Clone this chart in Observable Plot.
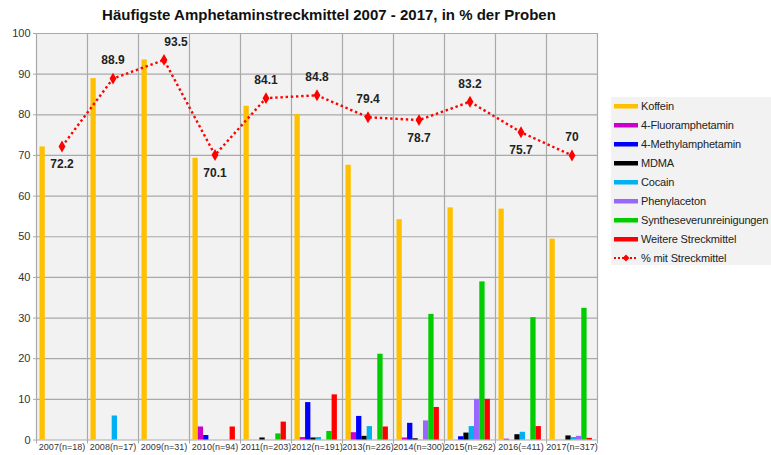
<!DOCTYPE html>
<html>
<head>
<meta charset="utf-8">
<script src="https://cdn.jsdelivr.net/npm/d3@7"></script>
<script src="https://cdn.jsdelivr.net/npm/@observablehq/plot@0.6"></script>
<style>
  html, body { margin: 0; padding: 0; background: #fff; overflow: hidden; }
  #wrap { position: relative; width: 771px; height: 455px; overflow: hidden; font-family: "Liberation Sans", Arial, sans-serif; }
  #title { position: absolute; left: 0; top: 6px; width: 658px; text-align: center; font-weight: bold; font-size: 15px; color: #111; }
  #chart { position: absolute; left: 0; top: 26px; }
  #legend { position: absolute; left: 611px; top: 97px; width: 170px; height: 168px; background: #f2f2f2; }
  .item { position: absolute; left: 0; height: 19px; display: flex; align-items: center; font-size: 11px; letter-spacing: -0.15px; color: #222; white-space: nowrap; }
  .item svg { margin-left: 3px; margin-right: 3px; }
</style>
</head>
<body>
<div id="wrap">
  <div id="title">Häufigste Amphetaminstreckmittel 2007 - 2017, in % der Proben</div>
  <div id="chart"></div>
  <div id="legend"></div>
</div>
<script>
// ---- data ----
const years = ["2007(n=18)","2008(n=17)","2009(n=31)","2010(n=94)","2011(n=203)","2012(n=191)","2013(n=226)","2014(n=300)","2015(n=262)","2016(=411)","2017(n=317)"];
const seriesNames = ["Koffein","4-Fluoramphetamin","4-Methylamphetamin","MDMA","Cocain","Phenylaceton","Syntheseverunreinigungen","Weitere Streckmittel"];
const seriesColors = ["#FFC000","#CC00CC","#0000FF","#000000","#00B0F0","#9966FF","#00CC00","#FF0000"];
const koffein  = [72.1, 88.9, 93.5, 69.3, 82.1, 80.1, 67.6, 54.2, 57.1, 56.8, 49.4];
const fluor    = [0, 0, 0, 3.2, 0, 0.6, 1.8, 0.5, 0, 0.2, 0];
const methyl   = [0, 0, 0, 1.1, 0, 9.2, 5.8, 4.1, 0.8, 0, 0];
const mdma     = [0, 0, 0, 0, 0.5, 0.5, 0.9, 0.3, 1.7, 1.3, 1.0];
const cocain   = [0, 5.9, 0, 0, 0, 0.6, 3.3, 0, 3.3, 1.9, 0.6];
const phenyl   = [0, 0, 0, 0, 0, 0, 0, 4.7, 10.0, 0, 0.9];
const synth    = [0, 0, 0, 0, 1.5, 2.1, 21.1, 30.9, 38.9, 30.1, 32.4];
const weitere  = [0, 0, 0, 3.2, 4.4, 11.1, 3.2, 8.0, 10.0, 3.3, 0.4];
const pctStreck = [72.2, 88.9, 93.5, 70.1, 84.1, 84.8, 79.4, 78.7, 83.2, 75.7, 70];
const lineName = "% mit Streckmittel";
const yTicks = [0,10,20,30,40,50,60,70,80,90,100];

// ---- build tables ----
const seriesValues = [koffein, fluor, methyl, mdma, cocain, phenyl, synth, weitere];
const bars = [];
seriesValues.forEach((vals, s) => vals.forEach((v, i) => {
  if (v > 0) bars.push({i, s, series: seriesNames[s], value: v});
}));
const pts = pctStreck.map((v, i) => ({i, value: v, label: String(v)}));

// label placement (style, not data)
const below = new Set([0, 3, 7, 9]);
const aboveRight = new Set([2]);

// bar geometry within a category (in category units)
const OFF = 0.068, BW = 0.104;

const chart = Plot.plot({
  width: 771,
  height: 429,
  marginLeft: 36,
  marginRight: 174,
  marginTop: 7,
  marginBottom: 15.5,
  style: {fontFamily: "'Liberation Sans', Arial, sans-serif", background: "transparent"},
  x: {type: "linear", domain: [0, 11]},
  y: {domain: [0, 100]},
  color: {domain: seriesNames, range: seriesColors},
  marks: [
    Plot.frame({fill: "#f2f2f2", stroke: "none"}),
    Plot.ruleY(yTicks, {stroke: "#a9a9a9", strokeWidth: 1.2}),
    Plot.ruleX(d3.range(12), {stroke: "#a9a9a9", strokeWidth: 1.2}),
    Plot.rectY(bars, {
      x1: d => d.i + OFF + d.s * BW,
      x2: d => d.i + OFF + (d.s + 1) * BW,
      y1: 0, y2: "value",
      fill: "series"
    }),
    Plot.line(pts, {x: d => d.i + 0.5, y: "value", stroke: "#FF0000", strokeWidth: 2.4, strokeDasharray: "2.4,2.8", strokeLinecap: "butt"}),
    Plot.dot(pts, {x: d => d.i + 0.5, y: "value", symbol: "diamond", r: 3.6, fill: "#FF0000", stroke: "none"}),
    Plot.text(pts.filter(d => !below.has(d.i) && !aboveRight.has(d.i)), {x: d => d.i + 0.5, y: "value", text: "label", dy: -18, fontSize: 12, fontWeight: "bold", fill: "#222"}),
    Plot.text(pts.filter(d => below.has(d.i)), {x: d => d.i + 0.5, y: "value", text: "label", dy: 18, fontSize: 12, fontWeight: "bold", fill: "#222"}),
    Plot.text(pts.filter(d => aboveRight.has(d.i)), {x: d => d.i + 0.5, y: "value", text: "label", dy: -18, dx: 12, fontSize: 12, fontWeight: "bold", fill: "#222"}),
    Plot.axisY({ticks: yTicks, tickSize: 3, tickPadding: 3, fontSize: 11, label: null, stroke: "#a9a9a9", fill: "#333"}),
    Plot.axisX({ticks: d3.range(12), tickSize: 4, tickFormat: () => "", label: null, stroke: "#a9a9a9"}),
    Plot.axisX({ticks: d3.range(11).map(i => i + 0.5), tickSize: 0, tickPadding: 4, fontSize: 9, tickFormat: d => years[Math.floor(d)], label: null, fill: "#333"})
  ]
});
document.getElementById("chart").appendChild(chart);

// ---- legend ----
const legend = document.getElementById("legend");
seriesNames.forEach((name, k) => {
  const el = document.createElement("div");
  el.className = "item";
  el.style.top = (k * 19 - 1) + "px";
  el.innerHTML = `<svg width="24" height="8"><rect x="0" y="2" width="24" height="4.5" fill="${seriesColors[k]}"/></svg><span>${name}</span>`;
  legend.appendChild(el);
});
const lel = document.createElement("div");
lel.className = "item";
lel.style.top = (8 * 19 - 1) + "px";
lel.innerHTML = `<svg width="24" height="10"><line x1="0" y1="5" x2="24" y2="5" stroke="#FF0000" stroke-width="2" stroke-dasharray="2,2"/><path d="M12,1.5 L15.5,5 L12,8.5 L8.5,5 Z" fill="#FF0000"/></svg><span>${lineName}</span>`;
legend.appendChild(lel);
</script>
</body>
</html>
